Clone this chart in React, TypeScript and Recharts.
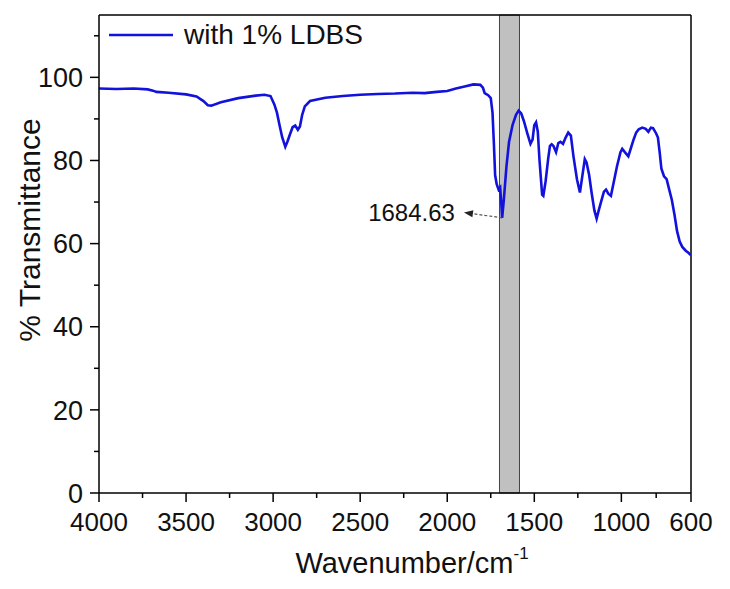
import React from "react";
import {
  LineChart,
  Line,
  XAxis,
  YAxis,
  ReferenceArea,
  ReferenceLine,
  Legend,
} from "recharts";

// FTIR spectrum
const wavenumbers = [
  4000, 3900, 3800, 3720, 3690, 3670, 3600, 3500, 3440, 3400, 3375, 3355, 3300,
  3200, 3100, 3050, 3015, 2993, 2978, 2963, 2948, 2930, 2918, 2903, 2888, 2873,
  2858, 2846, 2833, 2818, 2788, 2700, 2600, 2500, 2400, 2300, 2200, 2130, 2060,
  2000, 1950, 1900, 1850, 1810, 1795, 1785, 1765, 1750, 1740, 1732, 1725, 1716,
  1705, 1696, 1690, 1684.63, 1675, 1660, 1645, 1625, 1605, 1590, 1575, 1560,
  1540, 1522, 1510, 1500, 1490, 1480, 1470, 1455, 1448, 1435, 1420, 1410, 1400,
  1390, 1375, 1362, 1350, 1335, 1320, 1305, 1290, 1275, 1255, 1238, 1225, 1210,
  1200, 1185, 1170, 1155, 1142, 1130, 1115, 1100, 1088, 1075, 1060, 1045, 1025,
  1005, 995, 980, 960, 945, 930, 915, 900, 880, 860, 845, 830, 818, 800, 790,
  780, 770, 755, 740, 725, 710, 695, 680, 665, 650, 630, 615, 600,
];

const transmittance = [
  97.3, 97.2, 97.3, 97.1, 96.8, 96.5, 96.3, 95.9, 95.4, 94.3, 93.3, 93.2, 94.0,
  95.0, 95.6, 95.8, 95.5, 93.5, 91.5, 88.5, 85.6, 83.3, 84.5, 86.3, 88.0, 88.4,
  87.4, 88.2, 91.0, 93.0, 94.3, 95.1, 95.5, 95.8, 96.0, 96.1, 96.3, 96.2, 96.5,
  96.7, 97.3, 97.8, 98.3, 98.2, 97.5, 96.2, 95.7, 95.0, 91.5, 84.0, 76.5, 74.3,
  73.0, 73.5, 70.0, 66.2, 70.5, 78.5, 84.5, 88.5, 91.0, 92.0, 91.3, 89.5,
  86.5, 84.0, 85.0, 88.5, 89.2, 87.0, 80.0, 71.8, 71.5, 75.0, 80.5, 83.5, 83.9,
  83.5, 82.0, 84.2, 84.5, 84.0, 85.5, 86.7, 86.0, 81.0, 75.5, 72.3, 76.0, 80.3,
  79.5, 76.5, 72.0, 68.0, 66.0, 68.0, 70.3, 72.5, 73.0, 72.0, 71.5, 74.5, 78.6,
  82.0, 82.8, 82.0, 81.0, 83.0, 85.0, 86.7, 87.5, 87.9, 87.6, 86.9, 87.9, 87.8, 86.5, 85.5,
  82.0, 78.0, 76.2, 75.5, 73.0, 70.5, 67.0, 63.0, 60.5, 59.2, 58.3, 57.8, 57.2,
];

const xMajorTicks = [4000, 3500, 3000, 2500, 2000, 1500, 1000, 600];
const xMinorTicks = [3750, 3250, 2750, 2250, 1750, 1250, 800];
const yMajorTicks = [0, 20, 40, 60, 80, 100];
const yMinorTicks = [10, 30, 50, 70, 90, 110];

const seriesName = "with 1% LDBS";
const bandRange = [1700, 1585];
const peakLabel = "1684.63";
const peakPoint = { x: 1684.63, y: 66.2 };
const arrowHead = { x: 1904, y: 67.5 };

const data = wavenumbers.map((w, i) => ({ w, t: transmittance[i] }));

const FONT = '"Liberation Sans", Arial, sans-serif';
const BLUE = "#1212dc";

const XTick = (props: any) => {
  const { x, y, payload } = props;
  const major = xMajorTicks.includes(payload.value);
  return (
    <g>
      <line x1={x} x2={x} y1={y} y2={y + (major ? 9 : 5)} stroke="#000" strokeWidth={1.5} />
      {major && (
        <text x={x} y={y + 20} dy="0.71em" textAnchor="middle" fontSize={26} fill="#111">
          {payload.value}
        </text>
      )}
    </g>
  );
};

const YTick = (props: any) => {
  const { x, y, payload } = props;
  const major = yMajorTicks.includes(payload.value);
  return (
    <g>
      <line x1={x - (major ? 9 : 5)} x2={x} y1={y} y2={y} stroke="#000" strokeWidth={1.5} />
      {major && (
        <text x={x - 16} y={y} dy="0.36em" textAnchor="end" fontSize={27} fill="#111">
          {payload.value}
        </text>
      )}
    </g>
  );
};

const ArrowNote = (p: any) => {
  const { x1, y1, x2, y2 } = p;
  const ang = Math.atan2(y2 - y1, x2 - x1);
  const L = 9;
  const W = 3.5;
  const bx = x2 - L * Math.cos(ang);
  const by = y2 - L * Math.sin(ang);
  const px = -Math.sin(ang) * W;
  const py = Math.cos(ang) * W;
  return (
    <g>
      <line x1={x1} y1={y1} x2={bx} y2={by} stroke="#555" strokeWidth={1.2} strokeDasharray="3 2" />
      <polygon points={`${x2},${y2} ${bx + px},${by + py} ${bx - px},${by - py}`} fill="#222" />
      <text x={x2 - 9} y={y2} dy="0.36em" textAnchor="end" fontSize={24} fill="#111">
        {peakLabel}
      </text>
    </g>
  );
};

const LegendBox = () => (
  <div style={{ display: "flex", alignItems: "center", fontFamily: FONT }}>
    <svg width={66} height={10}>
      <line x1={1} x2={65} y1={5} y2={5} stroke={BLUE} strokeWidth={2.6} />
    </svg>
    <span style={{ fontSize: 28, marginLeft: 10, color: "#111", lineHeight: "32px" }}>
      {seriesName}
    </span>
  </div>
);

export default function App() {
  return (
    <div style={{ position: "absolute", left: 0, top: 0, background: "#fff", fontFamily: FONT }}>
      <LineChart
        width={730}
        height={589}
        data={data}
        margin={{ top: 15, right: 39, bottom: 0, left: 0 }}
      >
        <XAxis
          dataKey="w"
          type="number"
          domain={[600, 4000]}
          reversed
          ticks={[...xMajorTicks, ...xMinorTicks].sort((a, b) => b - a)}
          interval={0}
          tickSize={0}
          tickMargin={0}
          tickLine={false}
          tick={<XTick />}
          height={96}
          stroke="#000"
          strokeWidth={1.5}
          allowDataOverflow
          label={{
            content: () => (
              <text x={412} y={573} textAnchor="middle" fontSize={29} fill="#111">
                Wavenumber/cm
                <tspan fontSize={17} dy={-14}>-1</tspan>
              </text>
            ),
          }}
        />
        <YAxis
          type="number"
          domain={[0, 115]}
          ticks={[...yMajorTicks, ...yMinorTicks].sort((a, b) => a - b)}
          interval={0}
          tickSize={0}
          tickMargin={0}
          tickLine={false}
          tick={<YTick />}
          width={99}
          stroke="#000"
          strokeWidth={1.5}
          allowDataOverflow
          label={{
            content: () => (
              <text
                transform="translate(40,230) rotate(-90)"
                textAnchor="middle"
                fontSize={30}
                fill="#111"
              >
                % Transmittance
              </text>
            ),
          }}
        />
        <ReferenceArea
          x1={bandRange[0]}
          x2={bandRange[1]}
          fill="#c0c0c0"
          fillOpacity={1}
          stroke="#444"
          strokeWidth={1}
        />
        <ReferenceLine y={115} stroke="#000" strokeWidth={1.5} />
        <ReferenceLine x={600} stroke="#000" strokeWidth={1.5} />
        <Line
          dataKey="t"
          name={seriesName}
          stroke={BLUE}
          strokeWidth={2.6}
          dot={false}
          type="linear"
          isAnimationActive={false}
        />
        <ReferenceLine
          segment={[peakPoint, arrowHead]}
          shape={<ArrowNote />}
        />
        <Legend
          layout="vertical"
          align="center"
          verticalAlign="middle"
          wrapperStyle={{ left: 108, top: 19, width: "auto" }}
          content={<LegendBox />}
        />
      </LineChart>
    </div>
  );
}
